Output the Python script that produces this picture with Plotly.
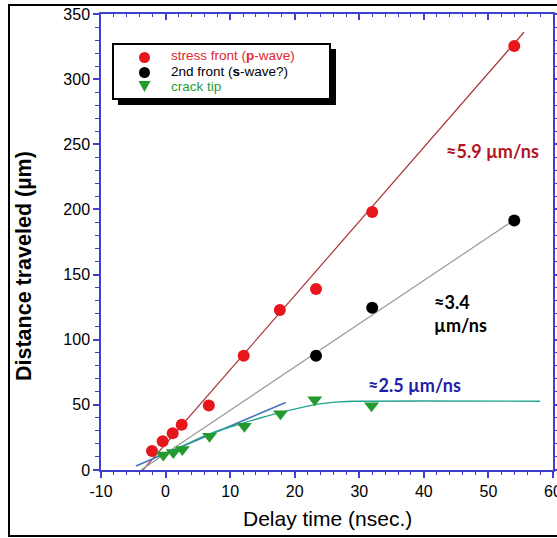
import plotly.graph_objects as go

# ---- data ----
p_x = [-2.1, -0.45, 1.1, 2.5, 6.7, 12.1, 17.7, 23.3, 32.0, 54.0]
p_y = [14.5, 22, 28.2, 34.8, 49.5, 87.7, 122.8, 139, 198, 325.5]

s_x = [23.3, 32.0, 54.0]
s_y = [87.7, 124.6, 191.5]

c_x = [-0.35, 1.2, 2.6, 6.8, 12.2, 17.8, 23.1, 31.9]
c_y = [11.5, 13.5, 15.8, 26, 33.5, 43.2, 54, 49.4]

# fit lines / guide curves
p_fit_x = [-3.5, 55.5]
p_fit_y = [0, 336]
s_fit_x = [-3.8, 54.0]
s_fit_y = [0, 192]
c_lin_x = [-4.6, 18.6]
c_lin_y = [3, 51.8]
c_curve_x = [-1.5, 2, 6.7, 12, 17.7, 23, 27, 30, 58]
c_curve_y = [10, 17, 27.5, 36, 44, 50, 52.3, 52.8, 52.8]

x_ticks = [-10, 0, 10, 20, 30, 40, 50, 60]
x_ticktext = ["-10", "0", "10", "20", "30", "40", "50", "60"]
y_ticks = [0, 50, 100, 150, 200, 250, 300, 350]
y_ticktext = ["0", "50", "100", "150", "200", "250", "300", "350"]

legend_labels = ["stress front (<b>p</b>-wave)", "2nd front (<b>s</b>-wave?)", "crack tip"]

W, H = 557, 538
L, R, T, B = 101, 4, 14, 68
PW, PH = W - L - R, H - T - B


def px(x):
    return (x - L) / PW


def py(y):
    return (H - B - y) / PH


RED = "#E8161C"
GREEN = "#229A2E"
AX = "#3F3FD2"

fig = go.Figure()
fig.add_trace(go.Scatter(x=p_fit_x, y=p_fit_y, mode="lines",
                         line=dict(color="#A83434", width=1.2), showlegend=False))
fig.add_trace(go.Scatter(x=s_fit_x, y=s_fit_y, mode="lines",
                         line=dict(color="#999999", width=1.2), showlegend=False))
fig.add_trace(go.Scatter(x=c_lin_x, y=c_lin_y, mode="lines",
                         line=dict(color="#4477BB", width=1.6), showlegend=False))
fig.add_trace(go.Scatter(x=c_curve_x, y=c_curve_y, mode="lines", line_shape="spline",
                         line=dict(color="#22A58E", width=1.4), showlegend=False))
fig.add_trace(go.Scatter(x=p_x, y=p_y, mode="markers",
                         marker=dict(color=RED, size=12, symbol="circle"), showlegend=False))
fig.add_trace(go.Scatter(x=s_x, y=s_y, mode="markers",
                         marker=dict(color="black", size=12, symbol="circle"), showlegend=False))
fig.add_trace(go.Scatter(x=c_x, y=c_y, mode="markers",
                         marker=dict(color=GREEN, size=13, symbol="triangle-down"), showlegend=False))

tickfont = dict(family="Liberation Sans, Arial", size=16, color="black")
fig.update_layout(
    width=W, height=H,
    margin=dict(l=L, r=R, t=T, b=B, pad=0, autoexpand=False),
    paper_bgcolor="white", plot_bgcolor="white",
    showlegend=False,
    xaxis=dict(range=[-10, 60], tickmode="array", tickvals=x_ticks, ticktext=x_ticktext,
               showgrid=False, zeroline=False, automargin=False, ticklabeloverflow="allow",
               showline=True, linecolor=AX, linewidth=1.5,
               ticks="outside", ticklen=6, tickwidth=1.5, tickcolor=AX,
               minor=dict(dtick=2, tick0=0, ticks="outside", ticklen=3, tickwidth=1.2, tickcolor=AX),
               tickfont=tickfont, tickprefix="<b>", ticksuffix="</b>"),
    yaxis=dict(range=[0, 350], tickmode="array", tickvals=y_ticks, ticktext=y_ticktext,
               showgrid=False, zeroline=False, automargin=False, ticklabeloverflow="allow",
               showline=True, linecolor=AX, linewidth=1.5,
               ticks="outside", ticklen=6, tickwidth=1.5, tickcolor=AX,
               minor=dict(dtick=10, tick0=0, ticks="outside", ticklen=4, tickwidth=1.2, tickcolor=AX),
               tickfont=tickfont, tickprefix="<b>", ticksuffix="</b>"),
    xaxis2=dict(range=[-10, 60], overlaying="x", side="top", anchor="y", tick0=-10, dtick=10,
                showgrid=False, zeroline=False, automargin=False,
                showline=True, linecolor=AX, linewidth=1.5,
                ticks="inside", ticklen=6, tickwidth=1.5, tickcolor=AX, showticklabels=False,
                minor=dict(dtick=2, ticks="inside", ticklen=3, tickwidth=1.2, tickcolor=AX)),
    yaxis2=dict(range=[0, 350], overlaying="y", side="right", anchor="x", tick0=0, dtick=50,
                showgrid=False, zeroline=False, automargin=False,
                showline=True, linecolor=AX, linewidth=1.5,
                ticks="outside", ticklen=4, tickwidth=1.5, tickcolor=AX, showticklabels=False,
                minor=dict(dtick=10, ticks="outside", ticklen=3, tickwidth=1.2, tickcolor=AX)),
)
# reference so the mirror axes are drawn
fig.add_trace(go.Scatter(x=s_x, y=s_y, xaxis="x2", yaxis="y2", mode="markers",
                         marker=dict(opacity=0), hoverinfo="skip", showlegend=False))

shapes = []
# outer frame
shapes.append(dict(type="rect", xref="paper", yref="paper", x0=px(9), x1=px(562), y0=py(536), y1=py(5),
                   line=dict(color="black", width=2), layer="below"))
# legend box shadow + box
shapes.append(dict(type="rect", xref="paper", yref="paper", x0=px(118), x1=px(336), y0=py(105), y1=py(49),
                   line=dict(width=0), fillcolor="black", layer="above"))
shapes.append(dict(type="rect", xref="paper", yref="paper", x0=px(113), x1=px(330), y0=py(99), y1=py(44),
                   line=dict(color="black", width=2), fillcolor="white", layer="above"))
# legend keys
r = 5.5
for cy, col in [(57.5, RED), (72.5, "black")]:
    shapes.append(dict(type="circle", xref="paper", yref="paper", x0=px(144.5 - r), x1=px(144.5 + r),
                       y0=py(cy + r), y1=py(cy - r), fillcolor=col, line=dict(width=0), layer="above"))
shapes.append(dict(type="path", xref="paper", yref="paper",
                   path=f"M {px(138.5)} {py(81)} L {px(150.5)} {py(81)} L {px(144.5)} {py(92)} Z",
                   fillcolor=GREEN, line=dict(width=0), layer="above"))
fig.update_layout(shapes=shapes)

ann = []
leg_font = dict(family="Liberation Sans, Arial", size=13.5)
for lab, cy, col in zip(legend_labels, [56, 71, 86], ["#E0282E", "black", "#2E9B3A"]):
    ann.append(dict(text=lab, xref="paper", yref="paper", x=px(169), y=py(cy), xanchor="left",
                    yanchor="middle", showarrow=False, font=dict(color=col, **leg_font)))

rate_font = "Lato, Open Sans, sans-serif"
ann.append(dict(text="<b>≈5.9 µm/ns</b>", x=50.6, y=245, xref="x", yref="y", showarrow=False,
                xanchor="center", yanchor="middle", font=dict(family=rate_font, size=18, color="#B3141C")))
ann.append(dict(text="<b>≈3.4<br>µm/ns</b>", x=41.2, y=120.5, xref="x", yref="y", showarrow=False,
                xanchor="left", yanchor="middle", align="left",
                font=dict(family=rate_font, size=18, color="black")))
ann.append(dict(text="<b>≈2.5 µm/ns</b>", x=38.6, y=65, xref="x", yref="y", showarrow=False,
                xanchor="center", yanchor="middle", font=dict(family=rate_font, size=18, color="#1E1EA8")))
# axis titles
ann.append(dict(text="Delay time (nsec.)", xref="paper", yref="paper", x=px(327), y=py(518),
                xanchor="center", yanchor="middle", showarrow=False,
                font=dict(family="Liberation Sans, Arial", size=21, color="black")))
ann.append(dict(text="<b>Distance traveled (µm)</b>", xref="paper", yref="paper", x=px(24), y=py(266),
                xanchor="center", yanchor="middle", showarrow=False, textangle=-90,
                font=dict(family="Liberation Sans, Arial", size=21.5, color="black")))
fig.update_layout(annotations=ann)

fig.write_html("out.html", config={"displayModeBar": False},
               post_script="document.body.style.margin='0';document.body.style.overflow='hidden';")
